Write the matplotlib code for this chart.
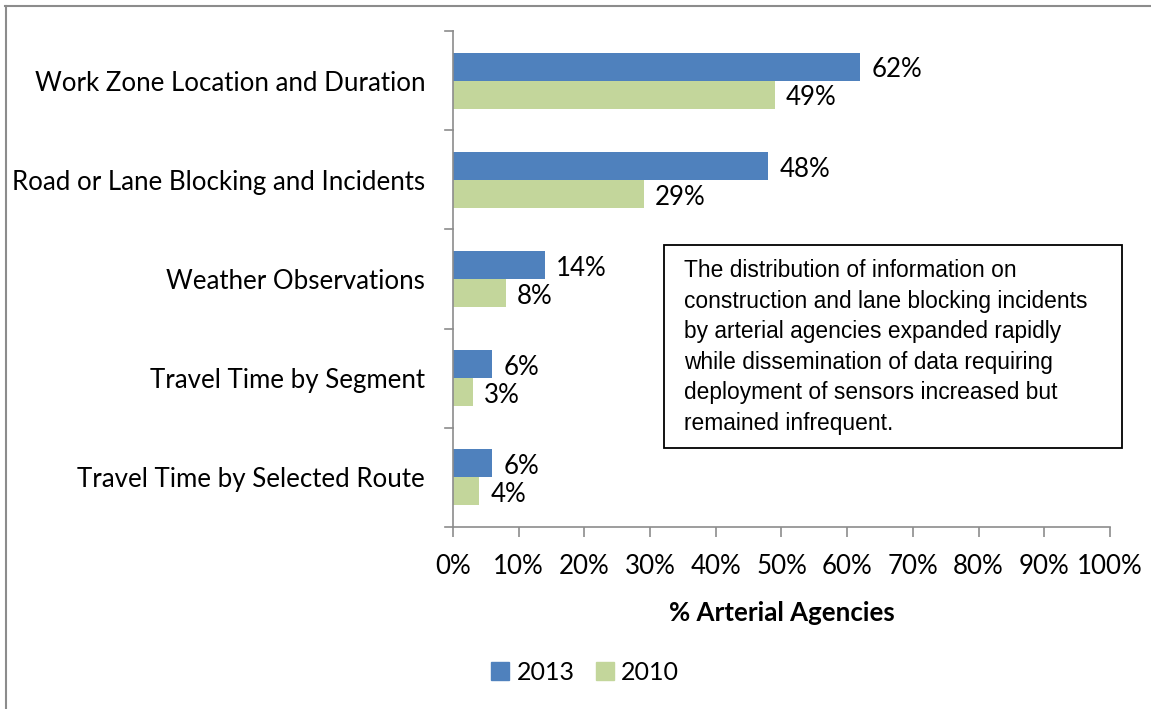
import matplotlib.pyplot as plt
from matplotlib.lines import Line2D
from matplotlib.patches import Patch, Rectangle
import numpy as np

categories = ["Work Zone Location and Duration", "Road or Lane Blocking and Incidents",
              "Weather Observations", "Travel Time by Segment", "Travel Time by Selected Route"]
vals_2013 = [62, 48, 14, 6, 6]
vals_2010 = [49, 29, 8, 3, 4]
series_names = ["2013", "2010"]
xticks = list(range(0, 101, 10))
note = ("The distribution of information on\nconstruction and lane blocking incidents\n"
        "by arterial agencies expanded rapidly\nwhile dissemination of data requiring\n"
        "deployment of sensors increased but\nremained infrequent.")

blue = "#4F81BD"
green = "#C3D69B"
gray = "#8C8C8C"
font = "Lato"
fs = 18.6

fig = plt.figure(figsize=(11.51, 7.09), dpi=100)
W, H = 1151, 709
ax = fig.add_axes([453 / W, 1 - 527 / H, (1110 - 453) / W, (527 - 31) / H])

n = len(categories)
y = np.arange(n)
h = 0.283
ax.barh(y - h / 2, vals_2013, height=h, color=blue, label=series_names[0])
ax.barh(y + h / 2, vals_2010, height=h, color=green, label=series_names[1])

ax.set_xlim(0, 100)
ax.set_ylim(n - 0.5, -0.5)

for i in range(n):
    ax.annotate(f"{vals_2013[i]}%", (vals_2013[i], y[i] - h / 2), xytext=(8, -2.4),
                textcoords="offset points", va="center", ha="left", fontsize=fs, family=font)
    ax.annotate(f"{vals_2010[i]}%", (vals_2010[i], y[i] + h / 2), xytext=(8, -2.4),
                textcoords="offset points", va="center", ha="left", fontsize=fs, family=font)

ax.set_xticks(xticks)
ax.set_xticklabels([f"{t}%" for t in xticks], fontsize=fs, family=font)
ax.set_yticks(y)
ax.set_yticklabels(categories, fontsize=fs, family=font)
ax.tick_params(axis="y", length=0, pad=20)
ax.tick_params(axis="x", length=7, color=gray, width=1.2, pad=12.5, direction="out")

# category boundary ticks on y axis
for b in np.arange(-0.5, n, 1.0):
    ax.add_line(Line2D([-8 / 657 * 100, 0], [b, b], color=gray, lw=1.2, clip_on=False))

for s in ["top", "right"]:
    ax.spines[s].set_visible(False)
for s in ["left", "bottom"]:
    ax.spines[s].set_color(gray)
    ax.spines[s].set_linewidth(1.2)

ax.set_xlabel("% Arterial Agencies", fontsize=fs, family=font, fontweight="bold", labelpad=16)

fig.text(684 / W, 1 - 259 / H, note, fontsize=16.4, family="Liberation Sans", va="top", ha="left",
         linespacing=1.42)
fig.patches.append(Rectangle((664 / W, 1 - 448 / H), (1122 - 664) / W, (448 - 245) / H,
                             transform=fig.transFigure, fill=False, edgecolor="black", lw=1.3))

handles = [Patch(color=blue), Patch(color=green)]
fig.legend(handles, series_names, loc="center", bbox_to_anchor=(585 / W, 1 - 672 / H), ncol=2,
           frameon=False, prop={"family": font, "size": 18}, handlelength=0.72, handleheight=0.72,
           handletextpad=0.3, columnspacing=0.85)

# outer frame (top and left only)
fig.add_artist(Line2D([5 / W, 1], [1 - 5.5 / H, 1 - 5.5 / H], transform=fig.transFigure, color=gray, lw=1.5))
fig.add_artist(Line2D([5.5 / W, 5.5 / W], [0, 1 - 5.5 / H], transform=fig.transFigure, color=gray, lw=1.5))

fig.savefig("out.png", dpi=100)
